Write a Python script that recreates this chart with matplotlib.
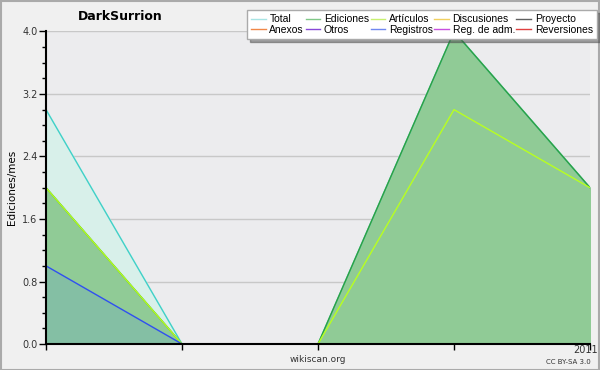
import matplotlib.pyplot as plt
import numpy as np
from matplotlib.lines import Line2D

# monthly edits, 5 months ending 2011
months = [0, 1, 2, 3, 4]
total = [3, 0, 0, 4, 2]
ediciones = [2, 0, 0, 4, 2]
articulos = [2, 0, 0, 3, 2]
registros = [1, 0, 0, 0, 0]

legend_names = ['Total', 'Ediciones', 'Artículos', 'Discusiones', 'Proyecto',
                'Anexos', 'Otros', 'Registros', 'Reg. de adm.', 'Reversiones']
legend_colors = ['#a8e4e4', '#80c888', '#c8f070', '#f0d060', '#606060',
                 '#f08848', '#8848d8', '#7088f0', '#c850e0', '#e04040']

fig = plt.figure(figsize=(6, 3.7), dpi=100, facecolor='#f0f0f0')
ax = fig.add_axes([46/600, 26/370, 544/600, 312.5/370])
ax.set_facecolor('#ececee')

# total (light cyan fill)
ax.fill_between(months, total, color='#d8f0ea', zorder=1)
ax.plot(months, total, color='#40d0c8', lw=1, zorder=4)
# ediciones
ax.fill_between(months, ediciones, color='#90cb96', zorder=2)
ax.plot(months, ediciones, color='#30a040', lw=1, zorder=5)
# articulos
ax.plot(months, articulos, color='#b8ff20', lw=1, zorder=6)
# registros
ax.fill_between(months, registros, color='#84bfa4', zorder=3)
ax.plot(months, registros, color='#3050f0', lw=1, zorder=7)

ax.set_xlim(0, 4)
ax.set_ylim(0, 4.0)
ax.set_yticks(np.arange(0, 4.01, 0.8))
ax.set_yticks(np.arange(0, 4.01, 0.2), minor=True)
ax.set_yticklabels(['%.1f' % v for v in np.arange(0, 4.01, 0.8)], fontsize=7, color='#333333')
ax.set_xticks(months)
ax.set_xticklabels([])
ax.tick_params(axis='x', length=4, width=1, pad=1)
ax.tick_params(axis='y', which='major', length=5, width=1, pad=1)
ax.tick_params(axis='y', which='minor', length=3, width=1)
ax.grid(axis='y', which='major', color='#c8c8c8', lw=1, zorder=0)
ax.set_axisbelow(True)
for s in ['top', 'right']:
    ax.spines[s].set_visible(False)
for s in ['left', 'bottom']:
    ax.spines[s].set_linewidth(1.5)
    ax.spines[s].set_zorder(10)

ax.set_ylabel('Ediciones/mes', fontsize=7.5, labelpad=4)
fig.text(598/600, 1 - 350/370, '2011', fontsize=7, ha='right', va='center', color='#333333')
fig.text(318/600, 1 - 359/370, 'wikiscan.org', fontsize=6.5, ha='center', va='center', color='#333333')
fig.text(591/600, 1 - 362/370, 'CC BY-SA 3.0', fontsize=5, ha='right', va='center', color='#333333')
fig.text(120/600, 1 - 17/370, 'DarkSurrion', fontsize=9, fontweight='bold', ha='center', va='center')

handles = [Line2D([], [], color=c, lw=1) for c in legend_colors]
# legend rows are filled left to right, so reorder for column-major layout
order = [0, 5, 1, 6, 2, 7, 3, 8, 4, 9]
leg = fig.legend([handles[i] for i in order], [legend_names[i] for i in order],
                 ncol=5, loc='upper right', bbox_to_anchor=(597/600, 1 - 10/370),
                 prop={'family': 'Liberation Sans', 'size': 7.5},
                 frameon=True, fancybox=False, shadow=True,
                 handlelength=1.4, handletextpad=0.35, columnspacing=0.15,
                 labelspacing=0.05, borderpad=0.4, borderaxespad=0)
leg.get_frame().set_edgecolor('#aaaaaa')
leg.get_frame().set_linewidth(1)
leg.set_zorder(20)

fig.patches.append(plt.Rectangle((0.001, 0.001), 0.997, 0.997, transform=fig.transFigure,
                                 fill=False, edgecolor='#aaaaaa', lw=1.5))
fig.savefig('out.png', dpi=100, facecolor=fig.get_facecolor())
